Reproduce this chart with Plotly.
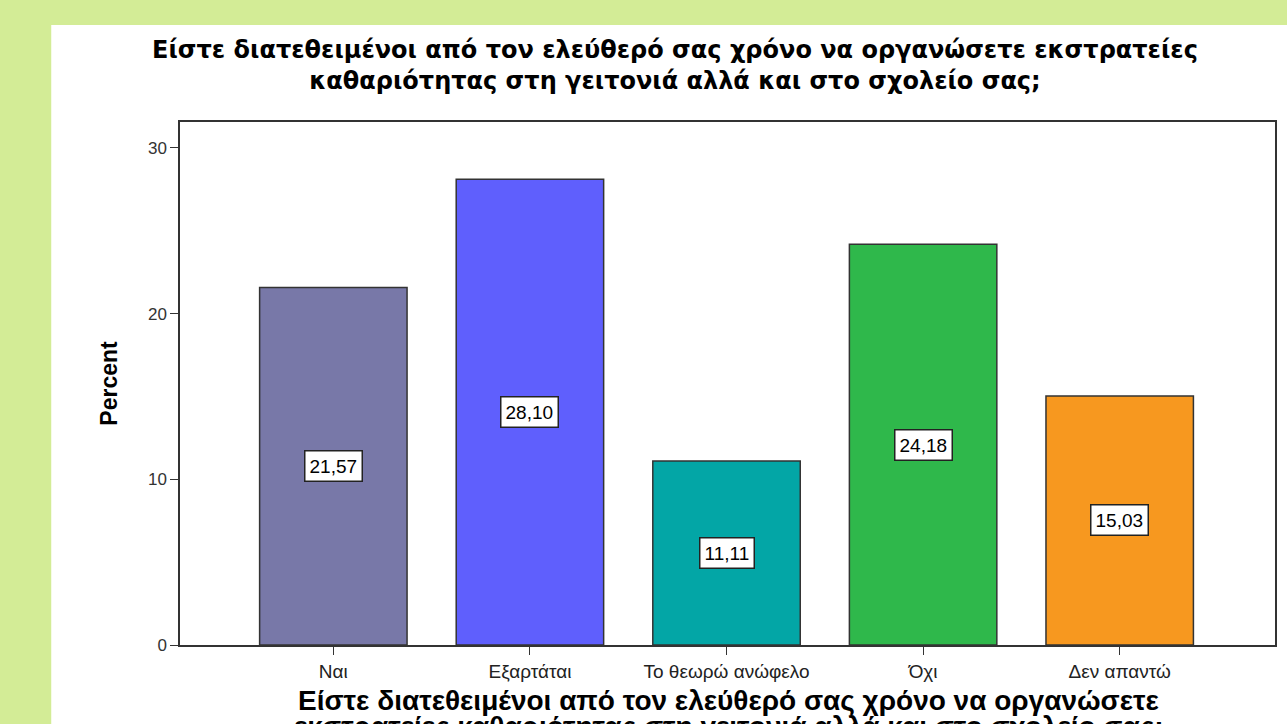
import plotly.graph_objects as go

# απαντήσεις και ποσοστά
categories = ['Ναι', 'Εξαρτάται', 'Το θεωρώ ανώφελο', 'Όχι', 'Δεν απαντώ']
percent = [21.57, 28.10, 11.11, 24.18, 15.03]
labels = ['21,57', '28,10', '11,11', '24,18', '15,03']
colors = ['#7878a8', '#5f5ffd', '#03a6a6', '#2fb84b', '#f7981f']
y_ticks = [0, 10, 20, 30]

W, H = 1287, 724
L, R, T, B = 180, 10, 122, 79
pw, ph = W - L - R, H - T - B

fig = go.Figure(go.Bar(
    x=categories,
    y=percent,
    marker=dict(color=colors, line=dict(color='#333333', width=1.5)),
    width=0.75,
    hoverinfo='x+y',
))

for cat, val, lab in zip(categories, percent, labels):
    fig.add_annotation(
        x=cat, y=val / 2, text=lab, showarrow=False,
        font=dict(family='Liberation Sans, Arial', size=19, color='black'),
        bgcolor='white', bordercolor='#222222', borderwidth=1.5, borderpad=4,
    )

# πλαίσιο: πράσινο φόντο με λευκή περιοχή
fig.add_shape(type='rect', xref='paper', yref='paper', layer='below',
              x0=(51 - L) / pw, x1=(W + 5 - L) / pw,
              y0=(-(B + 5)) / ph, y1=(H - 25 - B) / ph,
              fillcolor='white', line=dict(width=0))

# τίτλος άξονα x (η δεύτερη γραμμή κόβεται στο κάτω άκρο, όπως στο πρωτότυπο)
xtitle = ['Είστε διατεθειμένοι από τον ελεύθερό σας χρόνο να οργανώσετε',
          'εκστρατείες καθαριότητας στη γειτονιά αλλά και στο σχολείο σας;']
for line, py in zip(xtitle, [700, 726]):
    fig.add_annotation(
        xref='paper', yref='paper', x=(730 - L) / pw, y=(H - B - py) / ph,
        xanchor='center', yanchor='middle', showarrow=False,
        text=f'<b>{line}</b>',
        font=dict(family='Liberation Sans, Arial', size=28, color='black'),
    )

fig.update_layout(
    width=W, height=H,
    margin=dict(l=L, r=R, t=T, b=B),
    paper_bgcolor='#d3ec96',
    plot_bgcolor='#efefef',
    showlegend=False,
    title=dict(
        text='<b>Είστε διατεθειμένοι από τον ελεύθερό σας χρόνο να οργανώσετε εκστρατείες<br>καθαριότητας στη γειτονιά αλλά και στο σχολείο σας;</b>',
        x=675 / W, xanchor='center', y=1 - 58 / H, yanchor='middle',
        font=dict(family='DejaVu Sans', size=24, color='black'),
    ),
    bargap=0.25,
)
fig.update_xaxes(
    range=[-0.78, 4.79],
    showline=True, linecolor='#333333', linewidth=1.5, mirror=True,
    ticks='outside', ticklen=8, tickcolor='#333333',
    tickfont=dict(family='Liberation Sans, Arial', size=19, color='#222222'),
)
fig.update_yaxes(
    range=[0, 31.56],
    tickvals=y_ticks,
    showgrid=False, zeroline=False,
    showline=True, linecolor='#333333', linewidth=1.5, mirror=True,
    ticks='outside', ticklen=8, tickcolor='#333333',
    tickfont=dict(family='Liberation Sans, Arial', size=17, color='#333333'),
    title=dict(text='<b>Percent</b>', standoff=24,
               font=dict(family='Liberation Sans, Arial', size=23, color='black')),
)

fig.write_html('out.html', config={'displayModeBar': False},
               post_script="document.body.style.margin='0';")
